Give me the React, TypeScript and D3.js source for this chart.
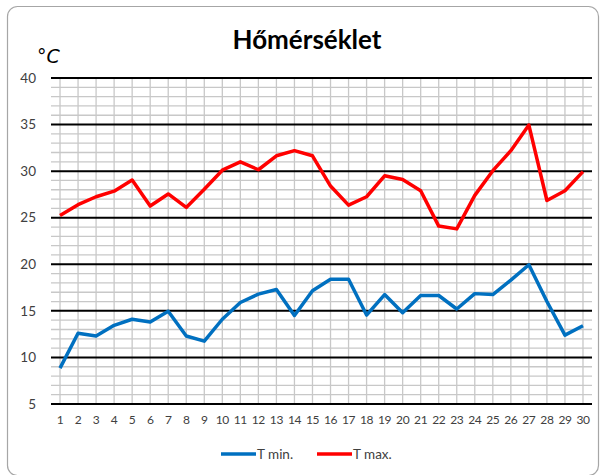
import { useEffect, useRef } from 'react';
import * as d3 from 'd3';

// daily temperatures, °C
const days = d3.range(1, 31);
const tMin = [8.85, 12.6, 12.3, 13.45, 14.1, 13.8, 14.95, 12.3, 11.75, 14.1,
  15.9, 16.8, 17.3, 14.5, 17.15, 18.4, 18.4, 14.55, 16.75, 14.8,
  16.65, 16.65, 15.2, 16.85, 16.75, 18.3, 19.95, 16.0, 12.4, 13.4];
const tMax = [25.25, 26.4, 27.25, 27.85, 29.05, 26.25, 27.55, 26.1, 28.05, 30.1,
  31.0, 30.15, 31.65, 32.2, 31.65, 28.4, 26.35, 27.25, 29.5, 29.1,
  27.9, 24.1, 23.8, 27.4, 30.05, 32.2, 34.95, 26.85, 27.9, 29.95];
const yTicks = [5, 10, 15, 20, 25, 30, 35, 40];
const series = [
  { name: 'T min.', values: tMin, color: '#0070C0' },
  { name: 'T max.', values: tMax, color: '#FF0000' },
];

const W = 600;
const H = 475;
const font = 'Lato, "Open Sans", sans-serif';

const App = () => {
  const svgRef = useRef<SVGSVGElement | null>(null);

  useEffect(() => {
    if (!svgRef.current) return;
    const svg = d3.select(svgRef.current);
    svg.selectAll('*').remove();

    const left = 51, right = 592, top = 78, bottom = 404;

    const x = d3.scaleBand<number>().domain(days).range([left, right]);
    const xc = (d: number) => (x(d) as number) + x.bandwidth() / 2;
    const y = d3.scaleLinear().domain([5, 40]).range([bottom, top]);

    // chart frame
    svg.append('rect')
      .attr('x', 7.5).attr('y', 6.5)
      .attr('width', 591).attr('height', 469)
      .attr('rx', 10)
      .attr('fill', 'white')
      .attr('stroke', '#a6a6a6')
      .attr('stroke-width', 1.2);

    // title
    svg.append('text')
      .attr('x', 307).attr('y', 49)
      .attr('text-anchor', 'middle')
      .attr('font-family', font)
      .attr('font-weight', 'bold')
      .attr('font-size', 26)
      .attr('fill', '#000')
      .text('Hőmérséklet');

    // unit
    svg.append('text')
      .attr('x', 37).attr('y', 63)
      .attr('font-family', '"DejaVu Sans", sans-serif')
      .attr('font-style', 'italic')
      .attr('font-size', 19)
      .attr('fill', '#000')
      .text('°C');

    const grid = svg.append('g');

    // minor horizontal lines, every degree
    grid.selectAll('line.minor')
      .data(d3.range(5, 41).filter(v => v % 5 !== 0))
      .join('line')
      .attr('x1', left).attr('x2', right)
      .attr('y1', d => y(d)).attr('y2', d => y(d))
      .attr('stroke', '#c8c8c8')
      .attr('stroke-width', 1.3);

    // vertical lines at each day
    grid.selectAll('line.vert')
      .data(days)
      .join('line')
      .attr('x1', d => xc(d)).attr('x2', d => xc(d))
      .attr('y1', top).attr('y2', bottom)
      .attr('stroke', '#c8c8c8')
      .attr('stroke-width', 1.3);

    // major lines
    grid.selectAll('line.major')
      .data(yTicks)
      .join('line')
      .attr('x1', left).attr('x2', right)
      .attr('y1', d => y(d)).attr('y2', d => y(d))
      .attr('stroke', '#000')
      .attr('stroke-width', 2);

    // y labels
    svg.append('g')
      .selectAll('text')
      .data(yTicks)
      .join('text')
      .attr('x', 36)
      .attr('y', d => y(d))
      .attr('dy', '0.35em')
      .attr('text-anchor', 'end')
      .attr('font-family', font)
      .attr('font-size', 13.5)
      .attr('fill', '#404040')
      .text(d => d);

    // x labels
    svg.append('g')
      .selectAll('text')
      .data(days)
      .join('text')
      .attr('x', d => xc(d))
      .attr('y', 424)
      .attr('text-anchor', 'middle')
      .attr('font-family', font)
      .attr('font-size', 12)
      .attr('letter-spacing', -0.4)
      .attr('fill', '#404040')
      .text(d => d);

    // lines
    const line = d3.line<number>()
      .x((_, i) => xc(days[i]))
      .y(d => y(d));

    svg.append('g')
      .selectAll('path')
      .data(series)
      .join('path')
      .attr('d', s => line(s.values))
      .attr('fill', 'none')
      .attr('stroke', s => s.color)
      .attr('stroke-width', 3.5)
      .attr('stroke-linejoin', 'round');

    // legend
    const legend = svg.append('g')
      .selectAll('g')
      .data(series)
      .join('g')
      .attr('transform', (_, i) => `translate(${221 + i * 96},454)`);
    legend.append('line')
      .attr('x1', 0).attr('x2', 35)
      .attr('stroke', s => s.color)
      .attr('stroke-width', 3.5);
    legend.append('text')
      .attr('x', 36)
      .attr('dy', '0.35em')
      .attr('font-family', font)
      .attr('font-size', 13.5)
      .attr('fill', '#404040')
      .text(s => s.name);
  }, []);

  return (
    <svg ref={svgRef} width={W} height={H}
      style={{ position: 'absolute', left: 0, top: 0, display: 'block' }} />
  );
};

export default App;
